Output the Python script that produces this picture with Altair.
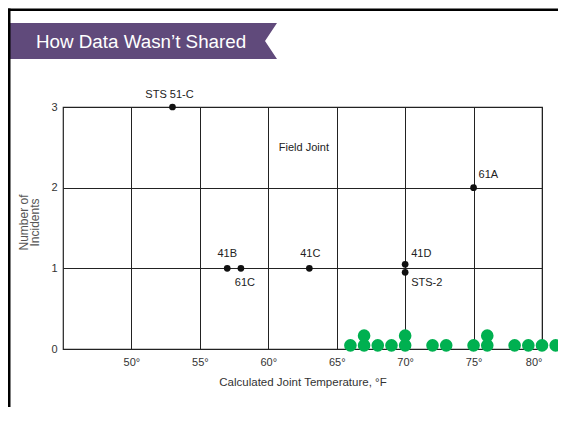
import altair as alt
import pandas as pd

# ---- data ----
flight_names = ["STS 51-C", "41B", "61C", "41C", "41D", "STS-2", "61A"]
flight_temps = [53, 57, 58, 63, 70, 70, 75]
flight_incidents = [3, 1, 1, 1, 1.05, 0.95, 2]

zero_temps = [66, 67, 67, 68, 69, 70, 70, 72, 73, 75, 76, 76, 78, 79, 80, 81]
zero_levels = [0.045, 0.045, 0.165, 0.045, 0.045, 0.045, 0.165, 0.045,
               0.045, 0.045, 0.045, 0.165, 0.045, 0.045, 0.045, 0.045]

note_text = ["Field Joint"]
note_temp = [62.6]
note_level = [2.49]

x_ticks = [50, 55, 60, 65, 70, 75, 80]
y_ticks = [0, 1, 2, 3]

banner_title = "How Data Wasn\u2019t Shared"

FONT = "Liberation Sans"

flights = pd.DataFrame({"name": flight_names, "temp": flight_temps, "incidents": flight_incidents})
zeros = pd.DataFrame({"temp": zero_temps, "incidents": zero_levels})
notes = pd.DataFrame({"name": note_text, "temp": note_temp, "incidents": note_level})
one = pd.DataFrame({"a": [0]})

X = alt.X(
    "temp:Q",
    scale=alt.Scale(domain=[45, 80], nice=False, zero=False),
    axis=alt.Axis(
        values=x_ticks, labelExpr="datum.value + '\u00b0'", grid=True,
        gridColor="#222", gridWidth=1, ticks=False, domain=False,
        labelFont=FONT, labelFontSize=11, labelColor="#333", labelPadding=7,
        title="Calculated Joint Temperature,  \u00b0F", titleFont=FONT,
        titleFontSize=11.5, titleFontWeight="normal", titleColor="#333",
        titlePadding=9,
    ),
)
Y = alt.Y(
    "incidents:Q",
    scale=alt.Scale(domain=[0, 3], nice=False, zero=False),
    axis=alt.Axis(
        values=y_ticks, format="d", grid=True, gridColor="#222", gridWidth=1,
        ticks=False, domain=False, labelFont=FONT, labelFontSize=11,
        labelColor="#333", labelPadding=6,
        title=["Number of", "Incidents"], titleFont=FONT, titleFontSize=12,
        titleFontWeight="normal", titleColor="#555", titlePadding=9,
        titleLineHeight=11, titleY=115,
    ),
)

green = alt.Chart(zeros).mark_circle(size=160, color="#00b050", opacity=1).encode(x=X, y=Y)
black = alt.Chart(flights).mark_circle(size=45, color="#111", opacity=1).encode(x=X, y=Y)


def label(name, dx, dy, align):
    return alt.Chart(flights).transform_filter(
        alt.datum.name == name
    ).mark_text(
        font=FONT, fontSize=11, color="#222", dx=dx, dy=dy, align=align, baseline="middle"
    ).encode(x=X, y=Y, text="name:N")


labels = [
    label("STS 51-C", -3, -12, "center"),
    label("41B", 0, -14, "center"),
    label("41C", 1, -14, "center"),
    label("61C", 4, 15, "center"),
    label("41D", 6, -10, "left"),
    label("STS-2", 6, 11, "left"),
    label("61A", 5, -13, "left"),
]

note = alt.Chart(notes).mark_text(
    font=FONT, fontSize=11, color="#222", baseline="middle"
).encode(x=X, y=Y, text="name:N")

# slide decoration (pixel positions relative to plot origin)
banner = alt.Chart(one).mark_point(
    shape="M-1,-0.1338L1,-0.1338L0.9108,0L1,0.1338L-1,0.1338Z",
    filled=True, fill="#604a7b", strokeWidth=0, opacity=1, size=72361,
).encode(x=alt.value(79.5), y=alt.value(-66))

banner_text = alt.Chart(one).mark_text(
    text=banner_title, font=FONT, fontSize=18.8, color="white", align="left", baseline="middle"
).encode(x=alt.value(-27), y=alt.value(-65))

left_border = alt.Chart(one).mark_rect(color="black", opacity=1).encode(
    x=alt.value(-55), x2=alt.value(-52.5), y=alt.value(-98.5), y2=alt.value(300)
)
top_border = alt.Chart(one).mark_rect(color="black", opacity=1).encode(
    x=alt.value(-55), x2=alt.value(495), y=alt.value(-98.5), y2=alt.value(-96)
)

chart = alt.layer(
    black, green, *labels, note, banner, banner_text, left_border, top_border
).properties(
    width=479, height=242,
    padding={"left": 55, "top": 99, "right": 16, "bottom": 58},
    autosize=alt.AutoSizeParams(type="none"),
    background="white",
).configure_view(stroke="#222", strokeWidth=1.2)

chart.save("out.html", embed_options={"renderer": "svg", "actions": False})
